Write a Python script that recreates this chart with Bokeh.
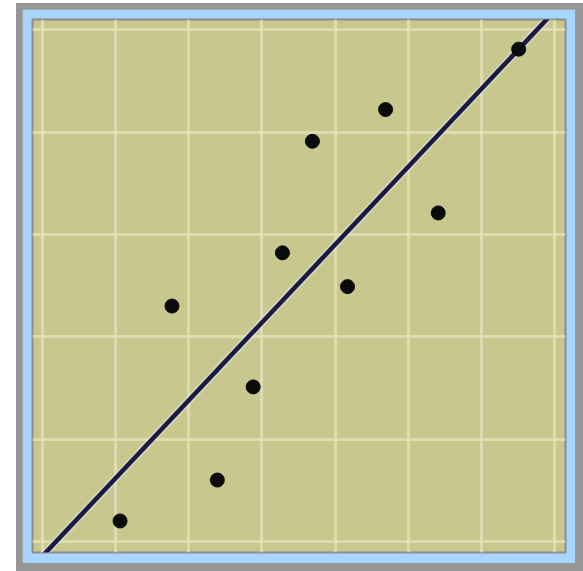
from bokeh.plotting import figure
from bokeh.layouts import column
from bokeh.models import Range1d, FixedTicker
from bokeh.embed import file_html
from bokeh.resources import INLINE

# data
x_vals = [1.06, 2.39, 1.77, 2.88, 3.28, 3.69, 4.17, 4.69, 5.41, 6.51]
y_vals = [0.20, 0.60, 2.30, 1.51, 2.82, 3.91, 2.49, 4.22, 3.21, 4.81]
line_x = [-0.3, 7.3]
line_y = [-0.37, 5.41]
x_ticks = [0, 1, 2, 3, 4, 5, 6, 7]
y_ticks = [0, 1, 2, 3, 4, 5]

p = figure(width=553, height=554, output_backend="svg", toolbar_location=None,
           x_range=Range1d(-0.137, 7.15), y_range=Range1d(-0.108, 5.10),
           min_border_left=10, min_border_right=10, min_border_top=10, min_border_bottom=11)
p.xaxis.visible = False
p.yaxis.visible = False
p.xaxis.ticker = FixedTicker(ticks=x_ticks)
p.yaxis.ticker = FixedTicker(ticks=y_ticks)
p.xgrid.ticker = FixedTicker(ticks=x_ticks)
p.ygrid.ticker = FixedTicker(ticks=y_ticks)
for g in (p.xgrid, p.ygrid):
    g.grid_line_color = "#e6e2b8"
    g.grid_line_width = 3
    g.grid_line_alpha = 0.75
p.background_fill_color = "#c7c78e"
p.border_fill_color = "#a8d5fd"
p.outline_line_color = "#8c8c8c"
p.outline_line_width = 2

p.line(line_x, line_y, line_color="#e8e8f0", line_width=8, line_alpha=0.45)
p.line(line_x, line_y, line_color="#1a1a42", line_width=4.5)
p.scatter(x_vals, y_vals, size=14, fill_color="#0a0a0a", line_color="#0a0a0a")

inner = column(p, styles={"background-color": "#969696", "padding": "6px 8px 8px 6px"})
layout = column(inner, styles={"background-color": "#ffffff", "padding": "3px 0px 0px 16px"})

open("out.html", "w").write(file_html(layout, INLINE))
